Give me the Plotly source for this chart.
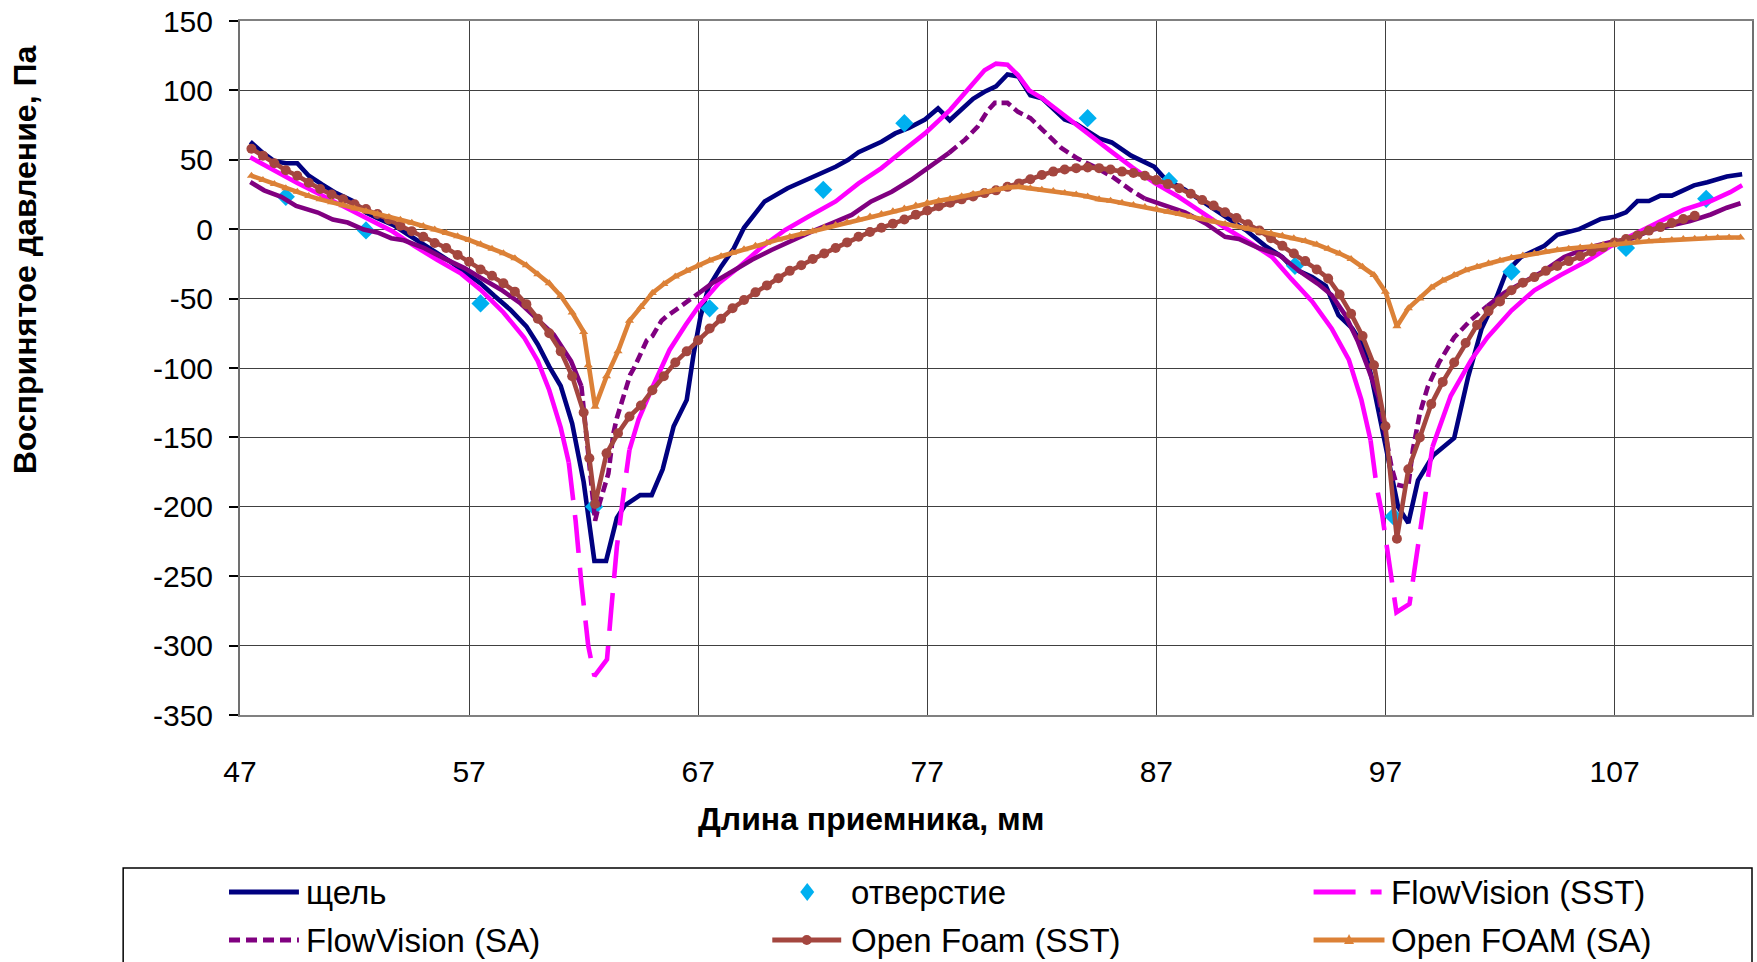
import plotly.graph_objects as go

# ---------------- data ----------------
slit_x = [47.45, 48.0, 48.5, 49.0, 49.5, 50.0, 50.6, 51.2, 51.9, 52.5, 53.0, 53.7, 54.4, 55.3, 56.2,
          56.9, 57.5, 58.1, 58.8, 59.5, 60.0, 60.5, 61.0, 61.5, 62.0, 62.47, 62.98, 63.45, 63.8, 64.47,
          64.97, 65.45, 65.93, 66.5, 66.8, 67.1, 67.45, 68.0, 68.55, 69.0, 69.9, 70.9, 72.1, 73.0, 73.55,
          74.0, 75.0, 75.6, 76.2, 76.9, 77.47, 77.98, 79.0, 79.5, 80.0, 80.5, 80.98, 81.5, 82.0, 83.0,
          83.5, 84.5, 85.05, 85.9, 86.9, 87.4, 88.25, 89.15, 90.0, 90.9, 91.75, 92.5, 92.95, 93.8, 94.4,
          94.95, 95.55, 96.05, 96.4, 96.7, 97.1, 97.55, 98.0, 98.42, 99.08, 100.0, 100.6, 101.2, 101.85,
          102.27, 102.92, 103.94, 104.5, 105.46, 106.4, 107.0, 107.5, 108.0, 108.5, 109.0, 109.5, 110.47,
          111.05, 111.9, 112.57]
slit_y = [63, 55, 49, 47.5, 47.5, 38.5, 32, 26, 20.5, 12, 8, 3, -4.5, -14, -23.5,
          -32, -39, -48, -58, -70, -83, -99, -113, -140, -182, -239, -239, -208, -199, -191.6,
          -191.6, -173, -142, -123, -90, -63, -42, -27, -14, 1, 20, 29.5, 38, 45, 50,
          55.5, 63, 69, 73, 79, 87, 78.5, 94, 99, 103, 111.5, 110, 96.5, 94.4, 79,
          76, 65.4, 62.5, 53, 45, 36, 28.4, 18.7, 9, -0.6, -12, -20, -28, -34.5, -41,
          -62, -71.5, -84.5, -107, -131, -165, -200, -211.7, -181, -163, -150.5, -107, -71.5, -49,
          -31, -20, -12, -4, 0, 7.4, 9, 12.2, 20.3, 20.3, 24.2, 24.2, 31.6,
          33.8, 38, 39.6]

hole_x = [49.0, 52.5, 57.5, 62.46, 67.5, 72.46, 76.0, 84.0, 87.55, 93.05, 97.35, 102.5, 107.5, 111.0]
hole_y = [23.3, -0.9, -53.5, -200, -57, 28.4, 76.4, 80, 34.8, -26.4, -207, -30.6, -13.5, 21.9]

fv_sst_x = [47.45, 48.35, 49.5, 50.5, 51.55, 52.55, 53.6, 54.6, 55.6, 56.65, 57.5, 58.5, 59.4, 60.0,
            60.5, 61.0, 61.35, 61.65, 61.9, 62.2, 62.47, 63.02, 63.2, 63.45, 63.8, 64.0, 64.4, 65.0,
            65.75, 66.45, 67.0, 67.9, 68.8, 69.8, 70.8, 71.8, 73.0, 74.0, 75.0, 75.9, 76.9, 78.0, 78.9,
            79.5, 80.0, 80.5, 80.96, 81.45, 82.0, 83.0, 83.9, 84.95, 85.95, 86.95, 87.95, 88.95, 90.0,
            91.15, 92.05, 92.9, 93.8, 94.65, 95.4, 95.95, 96.35, 96.62, 96.85, 97.25, 97.48, 98.05,
            98.45, 98.9, 99.05, 99.85, 100.75, 101.45, 102.5, 103.5, 104.65, 105.8, 106.85, 108.0,
            109.0, 110.0, 111.2, 112.05, 112.57]
fv_sst_y = [51.8, 43.3, 33.3, 25, 15.7, 7.7, -1, -12, -22, -32, -43.6, -60, -78, -95,
            -116, -143, -168, -210, -255, -300, -322, -310, -275, -229, -183, -159, -137, -114,
            -87, -69, -56, -39, -27, -12.5, -0.5, 9, 20, 33, 44, 56, 69, 86, 103,
            114.5, 119.3, 118.5, 111, 100, 94.5, 81.5, 70, 57, 44.5, 33, 23.5, 12.5, 1,
            -10.3, -20, -36, -52, -71.5, -94, -123, -152, -186, -205, -252, -276, -270,
            -225, -175, -157, -120, -94, -78, -58.6, -44, -33, -23, -12, -2.3,
            5.8, 13.9, 20.3, 26.7, 31.6]

fv_sa_x = [47.45, 48.05, 48.8, 49.45, 50.4, 51.05, 51.7, 52.4, 53.0, 53.6, 54.15, 55.05, 55.9, 56.8,
           57.5, 58.4, 59.25, 60.0, 60.7, 61.45, 61.9, 62.2, 62.5, 62.65, 63.08, 63.3, 63.45, 64.03,
           64.2, 64.76, 65.0, 65.4, 65.6, 66.2, 67.03, 67.6, 68.35, 69.35, 70.2, 70.95, 71.95, 72.85,
           73.7, 74.55, 75.45, 76.3, 76.9, 77.45, 77.95, 78.65, 79.2, 79.65, 79.95, 80.5, 80.96, 81.5,
           82.1, 82.85, 83.55, 84.3, 85.15, 85.9, 86.5, 87.4, 88.25, 89.15, 90.0, 90.6, 91.45, 92.35,
           93.2, 94.05, 94.65, 95.25, 95.8, 96.25, 96.7, 97.05, 97.26, 97.48, 97.99, 98.2, 98.5, 98.85,
           99.35, 100.0, 100.75, 101.45, 102.2, 102.9, 103.8, 104.8, 105.8, 106.85, 107.7, 108.6,
           109.45, 110.3, 111.2, 111.9, 112.5]
fv_sa_y = [34, 28, 23.3, 16.8, 12, 7, 4.8, -0.3, -2.3, -6.5, -8, -13.7, -21, -28,
           -35, -43.6, -53.5, -65, -76, -95, -113, -160, -210, -200, -176, -147, -136, -105,
           -100, -80, -77, -66, -63, -56, -46, -39, -31.7, -22, -15, -9, -1.7, 4.3,
           10.3, 20, 27, 35.6, 42.8, 50, 55, 64.5, 74, 85.7, 91, 91, 84.5, 80,
           70.5, 58.5, 51, 45, 37, 28, 22, 17, 12.2, 4.2, -5.5, -7, -13.5, -18.4,
           -29.6, -39.3, -47.4, -62, -81, -100.5, -121, -152, -171, -184, -186, -158.5, -132.7, -113.4,
           -95.7, -78, -65, -55.4, -45.8, -39.3, -31.3, -20, -13.5, -9.3, -7, -0.6,
           2.6, 5.8, 10.6, 15.5, 18.7]

of_sst_x = [47.5, 48.0, 48.5, 49.0, 49.5, 50.0, 50.5, 51.0, 51.5, 52.0, 52.5, 53.0, 53.5, 54.0, 54.5,
            55.0, 55.5, 56.0, 56.5, 57.0, 57.5, 58.0, 58.5, 59.0, 59.5, 60.0, 60.5, 61.0, 61.5, 62.0,
            62.25, 62.5, 63.0, 63.5, 64.0, 64.5, 65.0, 65.5, 66.0, 66.5, 67.0, 67.5, 68.0, 68.5, 69.0,
            69.5, 70.0, 70.5, 71.0, 71.5, 72.0, 72.5, 73.0, 73.5, 74.0, 74.5, 75.0, 75.5, 76.0, 76.5,
            77.0, 77.5, 78.0, 78.5, 79.0, 79.5, 80.0, 80.5, 81.0, 81.5, 82.0, 82.5, 83.0, 83.5, 84.0,
            84.5, 85.0, 85.5, 86.0, 86.5, 87.0, 87.5, 88.0, 88.5, 89.0, 89.5, 90.0, 90.5, 91.0, 91.5,
            92.0, 92.5, 93.0, 93.5, 94.0, 94.5, 95.0, 95.5, 96.0, 96.5, 97.0, 97.5, 98.0, 98.5, 99.0,
            99.5, 100.0, 100.5, 101.0, 101.5, 102.0, 102.5, 103.0, 103.5, 104.0, 104.5, 105.0, 105.5,
            106.0, 106.5, 107.0, 107.5, 108.0, 108.5, 109.0, 109.5, 110.0, 110.5]
of_sst_y = [58, 53, 47.5, 42.5, 38.5, 33.5, 29, 25, 21.5, 18, 14.5, 11, 7, 2.5, -1.5,
            -5.5, -10, -13.5, -18.5, -23.5, -29, -33.5, -39, -45, -54, -64.5, -75, -88, -106, -132,
            -165, -198, -161.5, -147, -135, -127, -116, -106, -96, -88, -80, -71.5, -64.5, -57, -51,
            -45.5, -40.5, -35.3, -30, -26, -21.5, -17.5, -13.5, -9.5, -5.5, -2, 1, 4, 7, 10.5,
            13.5, 16.5, 19, 21.5, 23.5, 26, 28, 30.5, 33, 36, 39, 41.5, 43, 44, 44.5,
            44, 43, 41.5, 40.5, 38.5, 35.5, 32.5, 29.5, 25.5, 21, 17, 12.2, 8, 3.5, -1,
            -6.5, -12, -17.5, -23, -29, -35.5, -47, -61, -77, -98, -142, -223, -173, -150, -126,
            -110, -96, -82, -69, -59, -52, -44, -38.5, -34.5, -30, -26.5, -23, -19.5,
            -16, -13, -9.5, -7, -4.5, -1, 1.5, 4.5, 7.3, 9.7]

of_sa_x = [47.5, 48.0, 48.5, 49.0, 49.5, 50.0, 50.5, 51.0, 51.5, 52.0, 52.5, 53.0, 53.5, 54.0, 54.5,
           55.0, 55.5, 56.0, 56.5, 57.0, 57.5, 58.0, 58.5, 59.0, 59.5, 60.0, 60.5, 61.0, 61.5, 62.0,
           62.2, 62.5, 63.0, 63.5, 64.0, 64.5, 65.0, 65.5, 66.0, 66.5, 67.0, 67.5, 68.0, 68.5, 69.0,
           69.5, 70.0, 70.5, 71.0, 71.5, 72.0, 72.5, 73.0, 73.5, 74.0, 74.5, 75.0, 75.5, 76.0, 76.5,
           77.0, 77.5, 78.0, 78.5, 79.0, 79.5, 80.0, 80.5, 81.0, 81.5, 82.0, 82.5, 83.0, 83.5, 84.0,
           84.5, 85.0, 85.5, 86.0, 86.5, 87.0, 87.5, 88.0, 88.5, 89.0, 89.5, 90.0, 90.5, 91.0, 91.5,
           92.0, 92.5, 93.0, 93.5, 94.0, 94.5, 95.0, 95.5, 96.0, 96.5, 97.0, 97.5, 98.0, 98.5, 99.0,
           99.5, 100.0, 100.5, 101.0, 101.5, 102.0, 102.5, 103.0, 103.5, 104.0, 104.5, 105.0, 105.5,
           106.0, 106.5, 107.0, 107.5, 108.0, 108.5, 109.0, 109.5, 110.0, 110.5, 111.0, 111.5, 112.0,
           112.5]
of_sa_y = [38.5, 35.5, 32.5, 29.5, 27, 24, 21.5, 19.5, 17.3, 15, 13, 11, 8.8, 6.8, 4.6,
           2.3, -0.3, -2.8, -5.1, -7.8, -10.8, -14, -17.3, -21, -26, -32.5, -39, -48, -60, -74,
           -98, -128, -106, -88, -66, -56, -46, -39.5, -34, -30, -26, -22.5, -19.5, -17, -14.5,
           -12, -9.8, -7.5, -5.5, -3.5, -1.5, 1.2, 3, 5, 7.2, 9.2, 11, 13, 15, 17,
           19, 20.5, 22, 23.7, 25.3, 27, 28.5, 30, 30.5, 29.5, 28.5, 27.5, 26, 25, 23.5,
           21.5, 20.5, 19, 17.5, 16, 14.5, 12.5, 11, 9, 7.5, 5.5, 3.8, 2.2, 0.3, -1.5,
           -3, -4.8, -6.5, -8.5, -11, -14, -17.5, -21.5, -27, -33, -45, -70, -57, -50, -42,
           -37, -33, -29.5, -27, -24.5, -22.5, -20.5, -19, -17.5, -16, -15, -14, -13.2,
           -12.3, -11.3, -10.5, -9.7, -9, -8.7, -8.2, -7.7, -7.1, -6.8, -6.4, -6.2, -6,
           -6]

x_ticks = [47, 57, 67, 77, 87, 97, 107]
y_ticks = [150, 100, 50, 0, -50, -100, -150, -200, -250, -300, -350]

names = ["щель", "отверстие", "FlowVision (SST)", "FlowVision (SA)", "Open Foam (SST)", "Open FOAM (SA)"]

# ---------------- style ----------------
C_NAVY = "#000080"
C_CYAN = "#00B0F0"
C_MAG = "#FF00FF"
C_PUR = "#800080"
C_BRN = "#A4463F"
C_ORG = "#DC8137"
FONT = "Liberation Sans, Arial, sans-serif"
LW = 4.6

MAG_DASH = "38px,15px"
PUR_DASH = "10px,5px"
MAG_DASHED_RANGES = [(61.3, 64.0), (96.3, 99.0)]
PUR_DASHED_RANGES = [(61.9, 67.0), (77.9, 86.3), (96.7, 101.5)]

W, H = 1757, 962
ML, MR, MT, MB = 240, 3, 21, 247
PW = W - ML - MR
PH = H - MT - MB


def px_x(px):
    return (px - ML) / PW


def px_y(py):
    return (H - MB - py) / PH


def split_runs(xs, ys, ranges):
    runs = []
    cur = None
    run = []
    for i in range(len(xs) - 1):
        mid = 0.5 * (xs[i] + xs[i + 1])
        st = any(a <= mid <= b for a, b in ranges)
        if st != cur:
            if run:
                runs.append((cur, run))
            run = [i]
            cur = st
        run.append(i + 1)
    if run:
        runs.append((cur, run))
    sx, sy, dx, dy = [], [], [], []
    for st, idx in runs:
        tx, ty = (dx, dy) if st else (sx, sy)
        if tx:
            tx.append(None)
            ty.append(None)
        tx.extend(xs[j] for j in idx)
        ty.extend(ys[j] for j in idx)
    return sx, sy, dx, dy


fig = go.Figure()

fig.add_trace(go.Scatter(x=slit_x, y=slit_y, mode="lines", name=names[0],
                         line=dict(color=C_NAVY, width=LW)))
fig.add_trace(go.Scatter(x=hole_x, y=hole_y, mode="markers", name=names[1],
                         marker=dict(symbol="diamond", size=14, color=C_CYAN, line=dict(width=0))))

sx, sy, dx, dy = split_runs(fv_sst_x, fv_sst_y, MAG_DASHED_RANGES)
fig.add_trace(go.Scatter(x=sx, y=sy, mode="lines", name=names[2], connectgaps=False,
                         line=dict(color=C_MAG, width=LW)))
fig.add_trace(go.Scatter(x=dx, y=dy, mode="lines", name=names[2], connectgaps=False,
                         line=dict(color=C_MAG, width=LW, dash=MAG_DASH)))

sx, sy, dx, dy = split_runs(fv_sa_x, fv_sa_y, PUR_DASHED_RANGES)
fig.add_trace(go.Scatter(x=sx, y=sy, mode="lines", name=names[3], connectgaps=False,
                         line=dict(color=C_PUR, width=LW)))
fig.add_trace(go.Scatter(x=dx, y=dy, mode="lines", name=names[3], connectgaps=False,
                         line=dict(color=C_PUR, width=LW, dash=PUR_DASH)))

fig.add_trace(go.Scatter(x=of_sst_x, y=of_sst_y, mode="lines+markers", name=names[4],
                         line=dict(color=C_BRN, width=LW),
                         marker=dict(symbol="circle", size=10, color=C_BRN)))
fig.add_trace(go.Scatter(x=of_sa_x, y=of_sa_y, mode="lines+markers", name=names[5],
                         line=dict(color=C_ORG, width=LW),
                         marker=dict(symbol="triangle-up", size=8, color=C_ORG)))

# ---------------- manual legend (Excel style box) ----------------
shapes = []
annotations = []
shapes.append(dict(type="rect", xref="paper", yref="paper",
                   x0=px_x(123), x1=px_x(1754), y0=px_y(868), y1=px_y(985),
                   line=dict(color="black", width=1.5), fillcolor="rgba(0,0,0,0)", layer="above"))

row_y = [892, 940]
legend_items = [
    (229, 299, 304, 0, C_NAVY, "solid", None, names[0]),
    (None, None, 850, 0, C_CYAN, None, "diamond", names[1]),
    (1315, 1386, 1391, 0, C_MAG, "42px,15px,11px,15px", None, names[2]),
    (229, 299, 304, 1, C_PUR, "11px,6px", None, names[3]),
    (773, 842, 850, 1, C_BRN, "solid", "circle", names[4]),
    (1315, 1386, 1391, 1, C_ORG, "solid", "triangle", names[5]),
]
for x0, x1, tx, r, col, dash, mk, label in legend_items:
    yy = row_y[r]
    if x0 is not None:
        shapes.append(dict(type="line", xref="paper", yref="paper",
                           x0=px_x(x0), x1=px_x(x1), y0=px_y(yy), y1=px_y(yy),
                           line=dict(color=col, width=5, dash=dash), layer="above"))
    if mk == "diamond":
        cx = 808
        shapes.append(dict(type="path", xref="paper", yref="paper",
                           path=f"M {px_x(cx)},{px_y(yy - 9)} L {px_x(cx + 7)},{px_y(yy)} "
                                f"L {px_x(cx)},{px_y(yy + 9)} L {px_x(cx - 7)},{px_y(yy)} Z",
                           fillcolor=col, line=dict(width=0), layer="above"))
    elif mk == "circle":
        cx = 0.5 * (x0 + x1)
        shapes.append(dict(type="circle", xref="paper", yref="paper",
                           x0=px_x(cx - 5), x1=px_x(cx + 5), y0=px_y(yy + 5), y1=px_y(yy - 5),
                           fillcolor=col, line=dict(width=0), layer="above"))
    elif mk == "triangle":
        cx = 0.5 * (x0 + x1)
        shapes.append(dict(type="path", xref="paper", yref="paper",
                           path=f"M {px_x(cx)},{px_y(yy - 6)} L {px_x(cx + 5)},{px_y(yy + 4)} "
                                f"L {px_x(cx - 5)},{px_y(yy + 4)} Z",
                           fillcolor=col, line=dict(width=0), layer="above"))
    annotations.append(dict(text=label, xref="paper", yref="paper", x=px_x(tx), y=px_y(yy),
                            xanchor="left", yanchor="middle", showarrow=False,
                            font=dict(family=FONT, size=33, color="black")))

# axis titles
annotations.append(dict(text="Длина приемника, мм", xref="paper", yref="paper",
                        x=px_x(872), y=px_y(819), xanchor="center", yanchor="middle",
                        showarrow=False, font=dict(family=FONT, size=32, color="black", weight="bold")))
annotations.append(dict(text="Воспринятое давление, Па", xref="paper", yref="paper",
                        x=px_x(25), y=px_y(260), xanchor="center", yanchor="middle", textangle=-90,
                        showarrow=False, font=dict(family=FONT, size=32, color="black", weight="bold")))

fig.update_layout(
    width=W, height=H,
    margin=dict(l=ML, r=MR, t=MT, b=MB, pad=0),
    paper_bgcolor="white", plot_bgcolor="white",
    showlegend=False,
    shapes=shapes, annotations=annotations,
    font=dict(family=FONT, color="black"),
)
fig.update_xaxes(range=[47, 113], tickmode="array", tickvals=x_ticks,
                 ticktext=[str(v) for v in x_ticks],
                 showgrid=True, gridcolor="#404040", gridwidth=1, zeroline=False,
                 showline=True, linecolor="#808080", linewidth=2, mirror=True,
                 ticks="", ticklabelstandoff=29,
                 tickfont=dict(family=FONT, size=30, color="black"))
fig.update_yaxes(range=[-350, 150], tickmode="array", tickvals=y_ticks,
                 ticktext=[str(v) for v in y_ticks],
                 showgrid=True, gridcolor="#404040", gridwidth=1, zeroline=False,
                 showline=True, linecolor="#707070", linewidth=2, mirror=True,
                 ticks="outside", ticklen=9, tickcolor="black", tickwidth=1.5,
                 ticklabelstandoff=10,
                 tickfont=dict(family=FONT, size=30, color="black"))

fig.write_html("out.html")
